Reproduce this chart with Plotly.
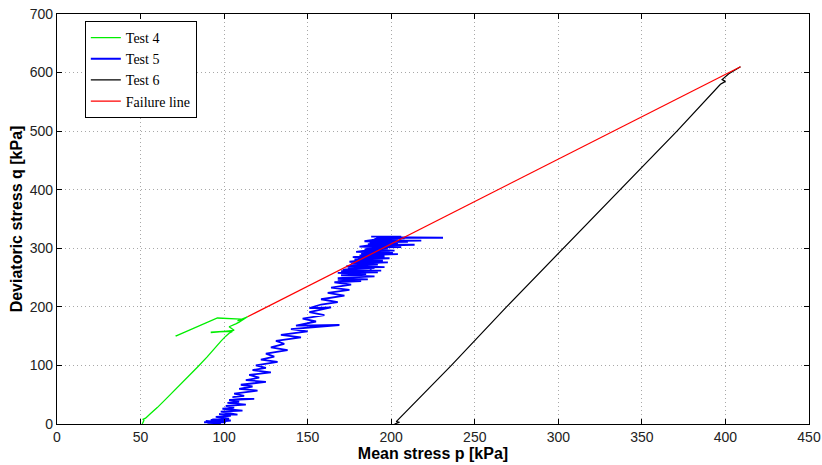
import plotly.graph_objects as go

# ---- data ----
test4_p = [51, 51.5, 52, 51.5, 53, 56, 60, 66, 72, 78, 84, 90, 95, 98, 101, 103, 105, 92, 104, 92, 106, 103, 105,
           107, 109, 111, 114, 108, 112, 110, 96, 71, 72.5, 71.5]
test4_q = [0, 3, 6, 8, 10, 18, 28, 45, 62, 80, 97, 115, 132, 141, 150, 155, 158, 157, 159, 156, 160, 166, 168,
           171, 174, 178, 183, 176, 180, 179, 181, 150, 152, 151]

test5_p = [88, 101, 89, 100, 92, 104, 90, 98, 93, 103,
           95, 104, 97, 108, 98, 111, 99, 106, 101, 113, 102, 109, 103, 118, 105, 112, 106,
           120, 109, 117, 110, 125, 113, 121, 115, 128, 117, 125, 119,
           132, 122, 130, 125, 138, 128, 136, 131, 146, 134,
           150, 140, 169, 143, 155, 147, 160, 151, 164, 151, 158,
           168, 158, 172, 162, 175, 164, 176, 166,
           182, 168, 186, 168, 190, 170, 185, 168, 192, 170, 194, 172, 190, 174, 196, 176, 192, 176,
           198, 178, 195, 178, 199, 180, 196, 181, 204, 182, 198, 183, 202, 184, 198, 185, 206, 186,
           214, 186, 203, 187, 210, 188, 218, 189, 204, 190, 208, 191, 231, 193, 206, 188, 202,
           184, 200, 181, 197, 179, 201, 177, 195, 175, 193, 173, 190, 171, 188, 184, 199, 186, 204, 190, 205]
test5_q = [3, 3, 5, 4, 7, 6, 2, 1, 8, 9,
           12, 14, 17, 16, 21, 23, 26, 28, 31, 33, 36, 38, 41, 43, 46, 48, 52,
           57, 60, 64, 67, 72, 75, 79, 84, 88, 92, 96, 100,
           106, 110, 115, 120, 126, 131, 137, 142, 148, 152,
           158, 162, 169, 168, 175, 180, 186, 191, 199, 198, 204,
           208, 213, 219, 224, 229, 233, 238, 242,
           244, 246, 247, 249, 252, 254, 256, 258, 259, 261, 262, 264, 266, 267, 268, 270, 272, 274,
           276, 277, 279, 281, 283, 284, 286, 288, 290, 291, 293, 295, 296, 298, 300, 301, 302, 304,
           306, 307, 308, 310, 311, 312, 313, 314, 315, 316, 317, 318, 318, 319, 320, 320, 320,
           312, 310, 303, 301, 294, 292, 285, 283, 277, 275, 269, 268, 263, 262, 290, 294, 305, 309, 316, 317]

test6_p = [202, 205, 203, 213, 236, 269, 303, 337, 371, 397, 400, 398, 402, 409]
test6_q = [0, 3, 4, 33, 100, 200, 300, 400, 500, 580, 585, 588, 598, 610]

fail_p = [114, 409]
fail_q = [183, 610]

x_ticks = [0, 50, 100, 150, 200, 250, 300, 350, 400, 450]
y_ticks = [0, 100, 200, 300, 400, 500, 600, 700]

fig = go.Figure()
fig.add_trace(go.Scatter(x=test4_p, y=test4_q, mode="lines", name="Test 4",
                         line=dict(color="#00ee00", width=1.3)))
fig.add_trace(go.Scatter(x=test5_p, y=test5_q, mode="lines", name="Test 5",
                         line=dict(color="#0000ff", width=1.8)))
fig.add_trace(go.Scatter(x=test6_p, y=test6_q, mode="lines", name="Test 6",
                         line=dict(color="#000000", width=1.2)))
fig.add_trace(go.Scatter(x=fail_p, y=fail_q, mode="lines", name="Failure line",
                         line=dict(color="#ff0000", width=1.2)))

axis_common = dict(
    showline=True, linecolor="black", linewidth=1.3, mirror="allticks",
    ticks="inside", ticklen=5, tickcolor="black",
    showgrid=True, gridcolor="#a8a8a8", griddash="1px,3px", gridwidth=1,
    zeroline=False, ticklabeloverflow="allow", automargin=False,
    tickfont=dict(family="Liberation Sans, Arial, sans-serif", size=14, color="#222"),
)

fig.update_xaxes(range=[0, 450], tickvals=x_ticks,
                 title=dict(text="<b>Mean stress p [kPa]</b>", standoff=2,
                            font=dict(family="Liberation Sans, Arial, sans-serif", size=16, color="black")),
                 **axis_common)
fig.update_yaxes(range=[0, 700], tickvals=y_ticks,
                 title=dict(text="<b>Deviatoric stress q [kPa]</b>", standoff=3,
                            font=dict(family="Liberation Sans, Arial, sans-serif", size=16, color="black")),
                 **axis_common)

fig.update_layout(
    width=822, height=465,
    margin=dict(l=57, r=13, t=14, b=41),
    plot_bgcolor="white", paper_bgcolor="white",
    legend=dict(x=0.037, y=0.983, xanchor="left", yanchor="top",
                bgcolor="white", bordercolor="black", borderwidth=1,
                font=dict(family="Liberation Serif, DejaVu Serif, serif", size=14, color="black"),
                tracegroupgap=0, itemwidth=30),
    showlegend=True,
)

fig.write_html("out.html")
